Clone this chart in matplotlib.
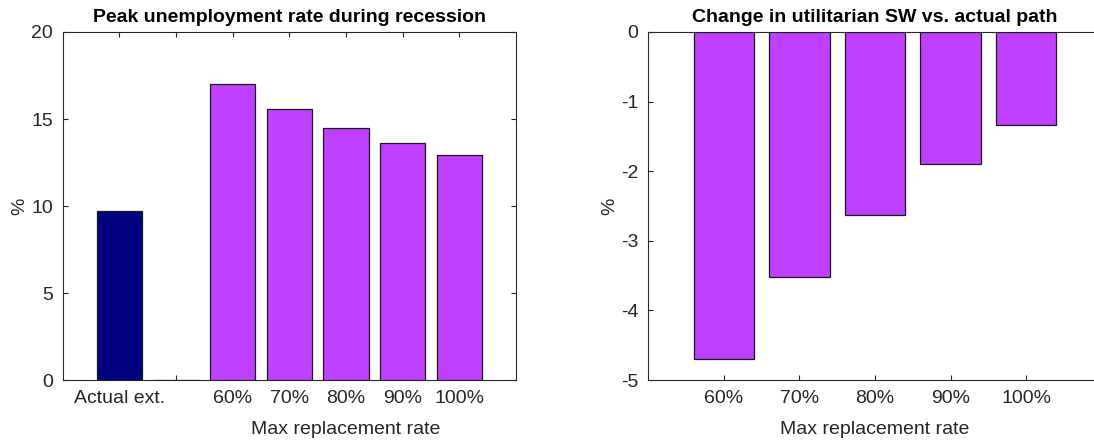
import matplotlib
matplotlib.use("Agg")
import matplotlib.pyplot as plt

plt.rcParams['font.family'] = ['Liberation Sans', 'DejaVu Sans']

# Left panel: peak unemployment rate (%)
left_labels = ["Actual ext.", "", "60%", "70%", "80%", "90%", "100%"]
left_values = [9.73, 0.0, 17.03, 15.59, 14.50, 13.60, 12.95]
left_colors = ["#000080", "#BF40FF", "#BF40FF", "#BF40FF", "#BF40FF", "#BF40FF", "#BF40FF"]

# Right panel: change in utilitarian social welfare (%)
right_labels = ["60%", "70%", "80%", "90%", "100%"]
right_values = [-4.70, -3.52, -2.63, -1.90, -1.34]
right_color = "#BF40FF"

axis_gray = "#262626"
tick_fs = 14
label_fs = 14
title_fs = 14

fig = plt.figure(figsize=(10.94, 4.40), dpi=100)
W, H = 1094, 440


def style(ax):
    for s in ax.spines.values():
        s.set_color(axis_gray)
        s.set_linewidth(0.8)
    ax.tick_params(direction="in", length=3.3, width=0.8, colors=axis_gray,
                   labelsize=tick_fs, top=True, right=True, pad=7)
    for t in ax.get_xticklabels() + ax.get_yticklabels():
        t.set_color(axis_gray)


# Left axes
ax1 = fig.add_axes([62.5 / W, (H - 380) / H, 453.5 / W, 348 / H])
x1 = list(range(1, len(left_values) + 1))
ax1.bar(x1, left_values, width=0.8, color=left_colors, edgecolor="#1a1a1a",
        linewidth=0.9, zorder=3)
ax1.set_xlim(0, 8)
ax1.set_ylim(0, 20)
ax1.set_yticks([0, 5, 10, 15, 20])
ax1.set_xticks(x1)
ax1.set_xticklabels(left_labels)
style(ax1)
ax1.set_title("Peak unemployment rate during recession", fontsize=title_fs,
              fontweight="bold", pad=7)
ax1.set_xlabel("Max replacement rate", fontsize=label_fs, color=axis_gray)
ax1.xaxis.set_label_coords(5 / 8, -0.117)
ax1.set_ylabel("%", fontsize=label_fs, color=axis_gray, labelpad=2)

# Right axes
ax2 = fig.add_axes([648.2 / W, (H - 380) / H, 453.6 / W, 348 / H])
x2 = list(range(1, len(right_values) + 1))
ax2.bar(x2, right_values, width=0.8, color=right_color, edgecolor="#1a1a1a",
        linewidth=0.9, zorder=3)
ax2.set_xlim(0, 6)
ax2.set_ylim(-5, 0)
ax2.set_yticks([-5, -4, -3, -2, -1, 0])
ax2.set_yticklabels(["-5", "-4", "-3", "-2", "-1", "0"])
ax2.set_xticks(x2)
ax2.set_xticklabels(right_labels)
style(ax2)
ax2.set_title("Change in utilitarian SW vs. actual path", fontsize=title_fs,
              fontweight="bold", pad=7)
ax2.set_xlabel("Max replacement rate", fontsize=label_fs, color=axis_gray)
ax2.xaxis.set_label_coords(0.5, -0.117)
ax2.set_ylabel("%", fontsize=label_fs, color=axis_gray, labelpad=2)

fig.savefig("out.png", dpi=100)
